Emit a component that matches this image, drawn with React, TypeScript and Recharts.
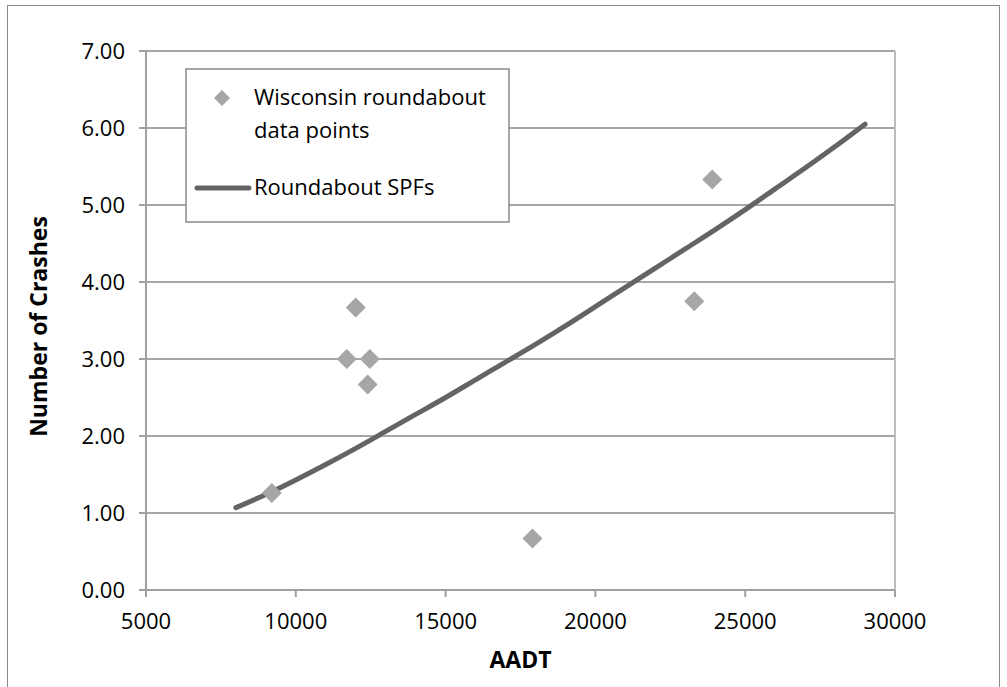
import {
  ScatterChart,
  Scatter,
  XAxis,
  YAxis,
  CartesianGrid,
  ReferenceLine,
  Legend,
  Label,
} from "recharts";

// Wisconsin roundabout observations
const pointAadt = [9200, 11700, 12000, 12400, 12470, 17900, 23300, 23900];
const pointCrashes = [1.26, 3.0, 3.67, 2.67, 3.0, 0.67, 3.75, 5.33];

// Roundabout SPF curve
const spfAadt = [
  8000, 9000, 10000, 11000, 12000, 13000, 14000, 15000, 16000, 17000, 18000,
  19000, 20000, 21000, 22000, 23000, 24000, 25000, 26000, 27000, 28000, 29000,
];
const spfCrashes = [
  1.07, 1.24, 1.43, 1.63, 1.84, 2.06, 2.28, 2.5, 2.73, 2.96, 3.19, 3.43, 3.68,
  3.93, 4.18, 4.43, 4.68, 4.94, 5.21, 5.48, 5.76, 6.05,
];

// Axis ticks
const xTicks = [5000, 10000, 15000, 20000, 25000, 30000];
const yTicks = [0, 1, 2, 3, 4, 5, 6, 7];

const pointData = pointAadt.map((x, i) => ({ x, y: pointCrashes[i] }));
const spfData = spfAadt.map((x, i) => ({ x, y: spfCrashes[i] }));

const FONT = "'Open Sans', sans-serif";
const MARKER = "#a6a6a6";
const LINE = "#646464";

const Diamond = (props: any) => {
  const { cx, cy } = props;
  const r = 10;
  return (
    <polygon
      points={`${cx},${cy - r} ${cx + r},${cy} ${cx},${cy + r} ${cx - r},${cy}`}
      fill={MARKER}
    />
  );
};

// Boxed legend like the Excel original
const LegendBox = () => (
  <svg width={325} height={155}>
    <rect x={1} y={1} width={323} height={153} fill="#fff" stroke="#8a8a8a" strokeWidth={1.5} />
    <polygon points="37,22 45,30 37,38 29,30" fill={MARKER} />
    <text x={69} y={37} fontFamily={FONT} fontSize={22} fill="#000">
      Wisconsin roundabout
    </text>
    <text x={69} y={70} fontFamily={FONT} fontSize={22} fill="#000">
      data points
    </text>
    <line x1={12} y1={120} x2={64} y2={120} stroke={LINE} strokeWidth={5} strokeLinecap="round" />
    <text x={69} y={127} fontFamily={FONT} fontSize={22} fill="#000">
      Roundabout SPFs
    </text>
  </svg>
);

export default function App() {
  return (
    <div
      style={{
        position: "fixed",
        left: 0,
        top: 0,
        width: 1007,
        height: 687,
        overflow: "hidden",
        background: "#fff",
      }}
    >
      {/* outer chart frame */}
      <div
        style={{
          position: "absolute",
          left: 7,
          top: 5,
          width: 993,
          height: 720,
          border: "1.5px solid #8a8a8a",
          boxSizing: "border-box",
        }}
      />
      <div style={{ position: "absolute", left: 0, top: 0 }}>
        <ScatterChart
          width={1007}
          height={687}
          margin={{ top: 51, right: 112, left: 0, bottom: 0 }}
        >
          <CartesianGrid vertical={false} stroke="#888" strokeWidth={1.5} />
          <XAxis
            type="number"
            dataKey="x"
            domain={[5000, 30000]}
            ticks={xTicks}
            height={97}
            tickSize={7}
            tickMargin={16}
            stroke="#a0a0a0"
            strokeWidth={2}
            tick={{ fill: "#000", fontSize: 22, fontFamily: FONT }}
          >
            <Label
              value="AADT"
              position="center"
              dy={21}
              style={{ fontFamily: FONT, fontSize: 23, fontWeight: 700, fill: "#000" }}
            />
          </XAxis>
          <YAxis
            type="number"
            dataKey="y"
            domain={[0, 7]}
            ticks={yTicks}
            width={146}
            tickSize={7}
            tickMargin={14}
            stroke="#a0a0a0"
            strokeWidth={2}
            tickFormatter={(v: number) => v.toFixed(2)}
            tick={{ fill: "#000", fontSize: 22, fontFamily: FONT }}
          >
            <Label
              value="Number of Crashes"
              position="center"
              angle={-90}
              dx={-34}
              dy={6}
              style={{ fontFamily: FONT, fontSize: 23, fontWeight: 700, fill: "#000" }}
            />
          </YAxis>
          <ReferenceLine x={30000} stroke="#bdbdbd" strokeWidth={2} />
          <Legend
            layout="vertical"
            align="center"
            verticalAlign="middle"
            content={() => <LegendBox />}
            wrapperStyle={{ left: 185, top: 68, width: 325, height: 155 }}
          />
          <Scatter
            name="Roundabout SPFs"
            data={spfData}
            line={{ stroke: LINE, strokeWidth: 5, strokeLinecap: "round" }}
            lineJointType="monotoneX"
            shape={() => <g />}
            isAnimationActive={false}
          />
          <Scatter
            name="Wisconsin roundabout data points"
            data={pointData}
            shape={Diamond}
            isAnimationActive={false}
          />
        </ScatterChart>
      </div>
    </div>
  );
}
